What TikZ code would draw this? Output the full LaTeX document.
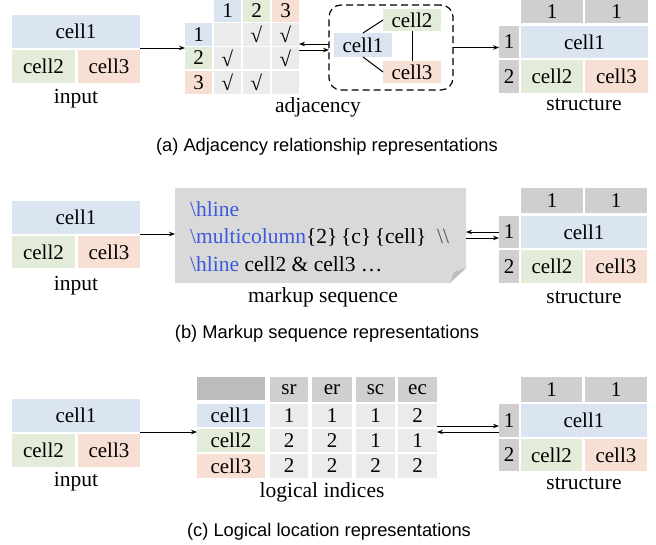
\documentclass[tikz,border=0pt]{standalone}
\usepackage{fontspec}
\setmainfont{Liberation Serif}
\newfontfamily\capfont{Liberation Sans}
\usetikzlibrary{arrows.meta}
\definecolor{cblue}{RGB}{218,229,241}
\definecolor{cgreen}{RGB}{226,236,216}
\definecolor{cpeach}{RGB}{247,224,211}
\definecolor{hgray}{RGB}{208,206,206}
\definecolor{lgray}{RGB}{235,235,235}
\definecolor{mgray}{RGB}{217,217,217}
\definecolor{dgray}{RGB}{188,188,188}
\definecolor{fgray}{RGB}{190,190,190}
\definecolor{cmdblue}{RGB}{60,90,220}
\definecolor{slgray}{RGB}{80,80,80}
\newcommand\mkcell[7]{\node[cellbox,fill=#6,minimum width={(#4-#2)*1pt},minimum height={(#5-#3)*1pt}] (#1) at ({(#2+#4)/2},{(#3+#5)/2}) {#7};}
\begin{document}
\begin{tikzpicture}[x=1pt,y=-1pt,
  cellbox/.style={inner sep=0pt,outer sep=0pt,font=\fontsize{21}{25}\selectfont},
  lbl/.style={font=\fontsize{21.5}{25}\selectfont,inner sep=0pt},
  mktxt/.style={font=\fontsize{21.5}{25}\selectfont,inner sep=0pt,anchor=base west},
  captxt/.style={font=\capfont\fontsize{18.3}{22}\selectfont,inner sep=0pt,anchor=base},
  arr/.style={line width=1pt,-{Stealth[length=6pt,width=4.5pt]}},
  conn/.style={line width=1pt}]
\useasboundingbox (0,0) rectangle (656,544);

% ================= (a) =================
\mkcell{a_i1}{12}{15}{140}{48}{cblue}{cell1}
\mkcell{a_i2}{12}{50}{75}{83}{cgreen}{cell2}
\mkcell{a_i3}{78}{50}{140}{83}{cpeach}{cell3}
\node[lbl,anchor=base] (a_inl) at (76,103) {input};

\mkcell{a_c1}{214}{0}{241}{22}{cblue}{1}
\mkcell{a_c2}{243}{0}{270}{22}{cgreen}{2}
\mkcell{a_c3}{272}{0}{299}{22}{cpeach}{3}
\mkcell{a_r1}{185}{23}{212}{46}{cblue}{1}
\mkcell{a_r2}{185}{47}{212}{69}{cgreen}{2}
\mkcell{a_r3}{185}{71}{212}{94}{cpeach}{3}
\mkcell{a_m11}{214}{23}{241}{46}{lgray}{}
\mkcell{a_m12}{243}{23}{270}{46}{lgray}{√}
\mkcell{a_m13}{272}{23}{299}{46}{lgray}{√}
\mkcell{a_m21}{214}{47}{241}{69}{lgray}{√}
\mkcell{a_m22}{243}{47}{270}{69}{lgray}{}
\mkcell{a_m23}{272}{47}{299}{69}{lgray}{√}
\mkcell{a_m31}{214}{71}{241}{94}{lgray}{√}
\mkcell{a_m32}{243}{71}{270}{94}{lgray}{√}
\mkcell{a_m33}{272}{71}{299}{94}{lgray}{}
\node[lbl,anchor=base] (a_adl) at (318,112) {adjacency};

\node[draw,line width=1.2pt,dash pattern=on 7pt off 4pt,rounded corners=12pt,
  minimum width=124pt,minimum height=85pt,inner sep=0pt,outer sep=0pt] (a_box) at (391,47.5) {};
\mkcell{a_g1}{334}{33}{392}{57}{cblue}{cell1}
\mkcell{a_g2}{383}{9}{441}{31}{cgreen}{cell2}
\mkcell{a_g3}{383}{61}{441}{83}{cpeach}{cell3}
\draw[conn] (a_g1.north) -- (a_g2.west);
\draw[conn] (a_g1.south) -- (a_g3.west);
\draw[conn] (a_g2.south -| 412,0) -- (a_g3.north -| 412,0);

\mkcell{a_h1}{521}{0}{583}{23}{hgray}{1}
\mkcell{a_h2}{585}{0}{648}{23}{hgray}{1}
\mkcell{a_s1}{499}{26}{519}{58}{hgray}{1}
\mkcell{a_s2}{499}{60}{519}{93}{hgray}{2}
\mkcell{a_t1}{521}{26}{648}{58}{cblue}{cell1}
\mkcell{a_t2}{521}{60}{583}{93}{cgreen}{cell2}
\mkcell{a_t3}{585}{60}{648}{93}{cpeach}{cell3}
\node[lbl,anchor=base] (a_stl) at (584,110) {structure};

\draw[arr] (a_i1.south east) -- (a_i1.south east -| a_r2.west);
\draw[arr] ([yshift=3.5pt]a_box.west) -- ([yshift=3.5pt]a_box.west -| a_m13.east);
\draw[arr] ([yshift=-2.5pt]a_box.west -| a_m23.east) -- ([yshift=-2.5pt]a_box.west);
\draw[arr] (a_box.east) -- (a_box.east -| a_s1.west);

\node[captxt] (a_cap) at (327,151) {(a) Adjacency relationship representations};

% ================= (b) =================
\mkcell{b_i1}{12}{201}{140}{234}{cblue}{cell1}
\mkcell{b_i2}{12}{236}{75}{268}{cgreen}{cell2}
\mkcell{b_i3}{78}{236}{140}{268}{cpeach}{cell3}
\node[lbl,anchor=base] (b_inl) at (76,290) {input};

\node[minimum width=291pt,minimum height=95pt,inner sep=0pt,outer sep=0pt] (b_mk) at (320.5,235.5) {};
\fill[mgray] (b_mk.north west) -- (b_mk.north east) -- ([yshift=15pt]b_mk.south east)
  -- ([xshift=-16pt]b_mk.south east) -- (b_mk.south west) -- cycle;
\fill[fgray] ([xshift=-16pt]b_mk.south east) -- ([yshift=15pt]b_mk.south east)
  .. controls ([xshift=-6pt,yshift=13pt]b_mk.south east) .. ([xshift=-12pt,yshift=11pt]b_mk.south east)
  .. controls ([xshift=-14pt,yshift=6pt]b_mk.south east) .. cycle;
\node[mktxt] (b_t1) at (190,216) {\textcolor{cmdblue}{\textbackslash hline}};
\node[mktxt] (b_t2) at (190,243.5) {\textcolor{cmdblue}{\textbackslash multicolumn}\{2\}\,\{c\}\,\{cell\}\ \ \textcolor{slgray}{\textbackslash\textbackslash}};
\node[mktxt] (b_t3) at (190,271) {\textcolor{cmdblue}{\textbackslash hline} cell2 \& cell3 …};
\node[lbl,anchor=base] (b_mkl) at (323,302) {markup sequence};

\mkcell{b_h1}{521}{188}{583}{213}{hgray}{1}
\mkcell{b_h2}{585}{188}{647}{213}{hgray}{1}
\mkcell{b_s1}{499}{216}{519}{248}{hgray}{1}
\mkcell{b_s2}{499}{250}{519}{283}{hgray}{2}
\mkcell{b_t1c}{521}{216}{647}{248}{cblue}{cell1}
\mkcell{b_t2c}{521}{250}{583}{283}{cgreen}{cell2}
\mkcell{b_t3c}{585}{250}{647}{283}{cpeach}{cell3}
\node[lbl,anchor=base] (b_stl) at (584,303) {structure};

\draw[arr] (b_i1.south east) -- (b_i1.south east -| b_mk.west);
\draw[arr] (b_s1.west) -- (b_s1.west -| b_mk.east);
\draw[arr] ([yshift=-6pt]b_s1.west -| b_mk.east) -- ([yshift=-6pt]b_s1.west);

\node[captxt] (b_cap) at (327,338) {(b) Markup sequence representations};

% ================= (c) =================
\mkcell{c_i1}{12}{399}{140}{432}{cblue}{cell1}
\mkcell{c_i2}{12}{434}{75}{467}{cgreen}{cell2}
\mkcell{c_i3}{78}{434}{140}{467}{cpeach}{cell3}
\node[lbl,anchor=base] (c_inl) at (76,486) {input};

\mkcell{c_tl}{197}{377}{265}{400}{dgray}{}
\mkcell{c_hsr}{270}{377}{308}{402}{hgray}{sr}
\mkcell{c_her}{312}{377}{352}{402}{hgray}{er}
\mkcell{c_hsc}{356}{377}{395}{402}{hgray}{sc}
\mkcell{c_hec}{398}{377}{437}{402}{hgray}{ec}
\mkcell{c_l1}{197}{404}{265}{427}{cblue}{cell1}
\mkcell{c_l2}{197}{429}{265}{452}{cgreen}{cell2}
\mkcell{c_l3}{197}{454}{265}{478}{cpeach}{cell3}
\mkcell{c_v11}{270}{404}{308}{427}{lgray}{1}
\mkcell{c_v12}{312}{404}{352}{427}{lgray}{1}
\mkcell{c_v13}{356}{404}{395}{427}{lgray}{1}
\mkcell{c_v14}{398}{404}{437}{427}{lgray}{2}
\mkcell{c_v21}{270}{429}{308}{452}{lgray}{2}
\mkcell{c_v22}{312}{429}{352}{452}{lgray}{2}
\mkcell{c_v23}{356}{429}{395}{452}{lgray}{1}
\mkcell{c_v24}{398}{429}{437}{452}{lgray}{1}
\mkcell{c_v31}{270}{454}{308}{478}{lgray}{2}
\mkcell{c_v32}{312}{454}{352}{478}{lgray}{2}
\mkcell{c_v33}{356}{454}{395}{478}{lgray}{2}
\mkcell{c_v34}{398}{454}{437}{478}{lgray}{2}
\node[lbl,anchor=base] (c_lil) at (322,497) {logical indices};

\mkcell{c_h1}{521}{377}{582}{402}{hgray}{1}
\mkcell{c_h2}{585}{377}{647}{402}{hgray}{1}
\mkcell{c_s1}{499}{404}{519}{437}{hgray}{1}
\mkcell{c_s2}{499}{439}{519}{471}{hgray}{2}
\mkcell{c_t1}{521}{404}{647}{437}{cblue}{cell1}
\mkcell{c_t2}{521}{439}{582}{471}{cgreen}{cell2}
\mkcell{c_t3}{585}{439}{647}{471}{cpeach}{cell3}
\node[lbl,anchor=base] (c_stl) at (584,489) {structure};

\draw[arr] (c_i1.south east) -- (c_i1.south east -| c_l2.west);
\draw[arr] ([yshift=-5.5pt]c_s1.west -| c_v14.east) -- ([yshift=-5.5pt]c_s1.west);
\draw[arr] ([yshift=-11.5pt]c_s1.west) -- ([yshift=-11.5pt]c_s1.west -| c_v14.east);

\node[captxt] (c_cap) at (329,536) {(c) Logical location representations};
\end{tikzpicture}
\end{document}
